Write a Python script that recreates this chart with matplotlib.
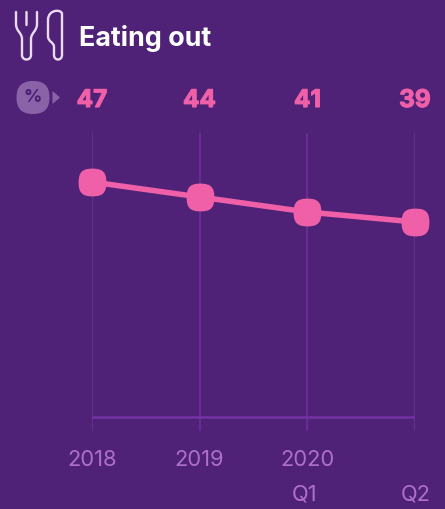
#!/usr/bin/env python3
# Eating out: share in % by period, purple card style
import matplotlib
matplotlib.use("Agg")
import matplotlib.pyplot as plt
import matplotlib.patheffects as pe
from matplotlib.path import Path
from matplotlib.patches import PathPatch

year_labels = ["2018", "2019", "2020", ""]
sub_labels = ["", "", "Q1", "Q2"]
values = [47, 44, 41, 39]

BG = "#4f2277"
PINK = "#f060a8"
GRID = "#6a2f95"
BASE = "#7433a3"
LABEL = "#ae6fcc"
W, H = 445, 509

def squircle(cx=0.0, cy=0.0, r=1.0, k=0.74):
    # rounded square built from 4 cubic corners
    c = r * k
    verts = [(cx - r, cy), (cx - r, cy + c), (cx - c, cy + r), (cx, cy + r),
             (cx + c, cy + r), (cx + r, cy + c), (cx + r, cy),
             (cx + r, cy - c), (cx + c, cy - r), (cx, cy - r),
             (cx - c, cy - r), (cx - r, cy - c), (cx - r, cy), (cx - r, cy)]
    k0 = [Path.MOVETO] + [Path.CURVE4] * 12 + [Path.CLOSEPOLY]
    return Path(verts, k0)

fig = plt.figure(figsize=(W / 100, H / 100), dpi=100, facecolor=BG)

# chart axes: x 0..3 = px 92..415, y 0 = px 417, 5 px per unit
left, right, top, bottom = 92, 415, 133, 431
ax = fig.add_axes([left / W, 1 - bottom / H, (right - left) / W, (bottom - top) / H])
ax.set_facecolor("none")
ax.set_xlim(0, 3)
ax.set_ylim(-(bottom - 417) / 5, (417 - top) / 5)
ax.axis("off")
xs = list(range(len(values)))
ax.vlines(xs, ax.get_ylim()[0], ax.get_ylim()[1], color=GRID, lw=1.3, zorder=1)
ax.hlines(0, 0, 3, color=BASE, lw=1.8, zorder=1)
ax.plot(xs, values, color=PINK, lw=4.0, solid_capstyle="round", zorder=3,
        marker=squircle(), markersize=20, markeredgewidth=0, clip_on=False)

# overlay in pixel coordinates for header, labels, icons
ov = fig.add_axes([0, 0, 1, 1])
ov.set_xlim(0, W)
ov.set_ylim(H, 0)
ov.axis("off")
ov.patch.set_alpha(0)

ov.text(79, 38.5, "Eating out", color="white", fontsize=19.4, fontweight="bold",
        family="Inter", ha="left", va="center")

px = [92, 199.5, 307.5, 415]
for x, v in zip(px, values):
    ov.text(x, 100.5, str(v), color=PINK, fontsize=17.5, fontweight="bold",
            family="Inter", ha="center", va="center",
            path_effects=[pe.withStroke(linewidth=0.8, foreground=PINK)])
for x, s in zip(px, year_labels):
    ov.text(x, 459.5, s, color=LABEL, fontsize=15.8, family="Inter",
            ha="center", va="center")
for x, s in zip(px, sub_labels):
    ov.text(x - 3 if s == "Q1" else x + 1, 495, s, color=LABEL, fontsize=15.8,
            family="Inter", ha="center", va="center")

# fork
fork = Path([(16, 12), (16, 24), (16, 31), (22, 33), (22, 39), (22, 55),
             (22, 61), (31, 61), (31, 55), (31, 39), (31, 33), (37, 31),
             (37, 24), (37, 12), (26.5, 12), (26.5, 25)],
            [Path.MOVETO, Path.LINETO, Path.CURVE4, Path.CURVE4, Path.CURVE4,
             Path.LINETO, Path.CURVE4, Path.CURVE4, Path.CURVE4, Path.LINETO,
             Path.CURVE4, Path.CURVE4, Path.CURVE4, Path.LINETO,
             Path.MOVETO, Path.LINETO])
ov.add_patch(PathPatch(fork, fc="none", ec="#eadcf0", lw=1.7, capstyle="round"))
# knife
knife = Path([(48, 20), (48, 36), (48, 42), (54, 42), (54, 47), (54, 55),
              (54, 61), (62, 61), (62, 55), (62, 14), (62, 9), (48, 9),
              (48, 20)],
             [Path.MOVETO, Path.LINETO, Path.CURVE4, Path.CURVE4, Path.CURVE4,
              Path.LINETO, Path.CURVE4, Path.CURVE4, Path.CURVE4, Path.LINETO,
              Path.CURVE4, Path.CURVE4, Path.CURVE4])
ov.add_patch(PathPatch(knife, fc="none", ec="#eadcf0", lw=1.7))

# % badge and arrow
ov.add_patch(PathPatch(squircle(33, 97.5, 16.5, k=0.68), fc="#8a62a8", ec="none"))
ov.add_patch(plt.Polygon([(52.5, 91), (60, 97.5), (52.5, 104)], fc="#8a62a8", ec="none"))
ov.text(33, 97.5, "%", color="#4a1f72", fontsize=13, fontweight="bold",
        family="Inter", ha="center", va="center")

fig.savefig("out.png", dpi=100, facecolor=BG)
